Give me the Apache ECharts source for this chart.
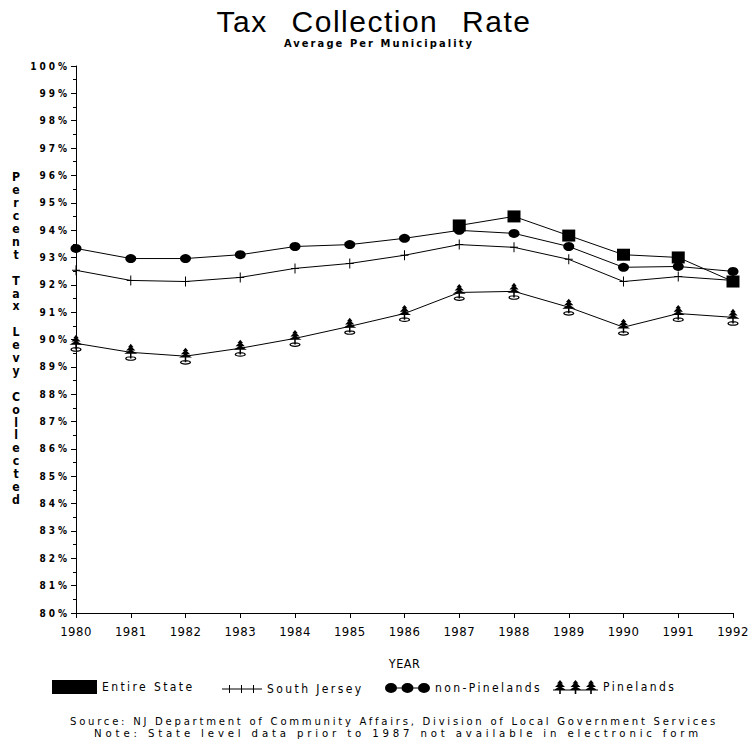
<!DOCTYPE html>
<html>
<head>
<meta charset="utf-8">
<title>Tax Collection Rate</title>
<script src="https://cdn.jsdelivr.net/npm/echarts@6/dist/echarts.min.js"></script>
<style>
  html, body { margin: 0; padding: 0; background: #fff; }
  #chart { width: 753px; height: 746px; }
  /* plotter style lettering is widely spaced; keyed on the font size of each text kind */
  #chart text[style*="30px"] { letter-spacing: 1.5px; word-spacing: 14px; }
  #chart text[style*="11px"] { letter-spacing: 2.1px; }
  #chart text[style*="10px"] { letter-spacing: 3px; }
  #chart text[style*="13px"] { letter-spacing: 0.5px; }
  #chart text[style*="12.5px"] { letter-spacing: 0.5px; }
  #chart text[style*="12px"] { letter-spacing: 2.4px; }
  #chart text[style*="11.2px"] { letter-spacing: 2.75px; }
  #chart text[style*="11.3px"] { letter-spacing: 3.85px; }
</style>
</head>
<body>
<div id="chart"></div>
<script>
const years = ['1980', '1981', '1982', '1983', '1984', '1985', '1986', '1987', '1988', '1989', '1990', '1991', '1992']
// state level data only from 1987 on
const entireState = ['-', '-', '-', '-', '-', '-', '-', 94.17, 94.5, 93.8, 93.1, 93.0, 92.12]
const southJersey = [92.53, 92.16, 92.12, 92.27, 92.6, 92.78, 93.08, 93.47, 93.37, 92.93, 92.12, 92.3, 92.16]
const nonPinelands = [93.33, 92.96, 92.96, 93.1, 93.4, 93.47, 93.7, 93.99, 93.88, 93.4, 92.64, 92.67, 92.49]
const pinelands = [89.86, 89.53, 89.39, 89.68, 90.04, 90.48, 90.95, 91.72, 91.76, 91.18, 90.45, 90.95, 90.81]

const plotFont = '"Liberation Sans Narrow", "DejaVu Sans Condensed", sans-serif'

// marker shapes
const plusSymbol = 'path://M3.5,0H4.5V10H3.5Z M0,4.5H8V5.5H0Z'
const treeSymbol = 'path://M7,0 L4,3.5 L5.5,3.5 L2,7 L5.5,7 L0,10.5 L6.2,10.5 L6.2,15.5 L7.8,15.5 L7.8,10.5 L14,10.5 L8.5,7 L12,7 L8.5,3.5 L10,3.5 Z' +
  ' M1,15.5 a6,2.5 0 1,0 12,0 a6,2.5 0 1,0 -12,0 Z M2.5,15.5 a4.5,1.2 0 1,1 9,0 a4.5,1.2 0 1,1 -9,0 Z'

// legend icons show three markers on a line
const plusIcon = 'path://M0,3.5H40V4.5H0Z M7,0H8V8H7Z M19,0H20V8H19Z M31,0H32V8H31Z'
const dotsIcon = 'path://M0,5a6,5 0 1,0 12,0a6,5 0 1,0 -12,0Z M16.5,5a6,5 0 1,0 12,0a6,5 0 1,0 -12,0Z M33,5a6,5 0 1,0 12,0a6,5 0 1,0 -12,0Z M6,4.5V5.5H39V4.5Z'
function tree(dx) {
  return 'M' + (7 + dx) + ',0 l-3,3.5 h1.5 l-3.5,3.5 h3.5 l-5.5,3.5 h6.2 v3.5 h1.6 v-3.5 h6.2 l-5.5,-3.5 h3.5 l-3.5,-3.5 h1.5 Z '
}
const treesIcon = 'path://' + tree(0) + tree(15.5) + tree(31) + 'M0,9.5V10.5H45V9.5Z'

const yName = 'Percent Tax Levy Collected'.split('').join('\n')

const chart = echarts.init(document.getElementById('chart'), null, { renderer: 'svg' })

function legendItem(name, icon, left, w, h, top) {
  return {
    data: [{ name: name, icon: icon }],
    left: left,
    top: top,
    itemWidth: w,
    itemHeight: h,
    padding: 0,
    selectedMode: false,
    itemStyle: { color: '#000', borderWidth: 0 },
    textStyle: { fontFamily: plotFont, fontSize: 12, color: '#000', padding: [0, 0, 0, 0] }
  }
}

chart.setOption({
  animation: false,
  backgroundColor: '#fff',
  graphic: [
    { type: 'text', x: 374, y: 21, style: { text: 'Tax Collection Rate', fontFamily: 'Liberation Sans', fontSize: 30, fill: '#000', align: 'center', verticalAlign: 'middle' } },
    { type: 'text', x: 379, y: 43, style: { text: 'Average Per Municipality', fontFamily: plotFont, fontSize: 11, fontWeight: 'bold', fill: '#000', align: 'center', verticalAlign: 'middle' } },
    { type: 'text', x: 16, y: 171, style: { text: yName, fontFamily: plotFont, fontSize: 12.2, fontWeight: 'bold', lineHeight: 12.9, fill: '#000', align: 'center', verticalAlign: 'top' } },
    { type: 'text', x: 394, y: 721, style: { text: 'Source: NJ Department of Community Affairs, Division of Local Government Services', fontFamily: plotFont, fontSize: 11.2, fill: '#000', align: 'center', verticalAlign: 'middle' } },
    { type: 'text', x: 398, y: 733, style: { text: 'Note: State level data prior to 1987 not available in electronic form', fontFamily: plotFont, fontSize: 11.3, fill: '#000', align: 'center', verticalAlign: 'middle' } }
  ],
  legend: [
    legendItem('Entire State', 'rect', 52, 45, 14, 680),
    legendItem('South Jersey', plusIcon, 222, 40, 8, 683),
    legendItem('non-Pinelands', dotsIcon, 385, 45, 10, 682),
    legendItem('Pinelands', treesIcon, 553, 45, 14, 680)
  ],
  grid: {
    left: 76,
    right: 20,
    top: 66,
    bottom: 133,
    outerBoundsMode: 'none'
  },
  xAxis: {
    type: 'category',
    data: years,
    boundaryGap: false,
    name: 'YEAR',
    nameLocation: 'middle',
    nameGap: 44,
    nameTextStyle: { fontFamily: plotFont, fontSize: 12.5, color: '#000' },
    axisLine: { lineStyle: { color: '#000', width: 1 } },
    axisTick: { alignWithLabel: true, length: 5, lineStyle: { color: '#000' } },
    axisLabel: { interval: 0, margin: 12, fontFamily: plotFont, fontSize: 13, color: '#000' },
    splitLine: { show: false }
  },
  yAxis: {
    type: 'value',
    min: 80,
    max: 100,
    interval: 1,
    axisLine: { show: true, lineStyle: { color: '#000', width: 1 } },
    axisTick: { show: true, length: 5, lineStyle: { color: '#000' } },
    minorTick: { show: true, splitNumber: 2, length: 3, lineStyle: { color: '#000' } },
    axisLabel: { formatter: '{value}%', margin: 6, fontFamily: plotFont, fontSize: 10, fontWeight: 'bold', color: '#000' },
    splitLine: { show: false }
  },
  series: [
    {
      name: 'Entire State',
      type: 'line',
      data: entireState,
      symbol: 'rect',
      symbolSize: [13, 12],
      color: '#000',
      lineStyle: { color: '#000', width: 1 },
      itemStyle: { color: '#000', borderWidth: 0 }
    },
    {
      name: 'South Jersey',
      type: 'line',
      data: southJersey,
      symbol: plusSymbol,
      symbolSize: [8, 10],
      color: '#000',
      lineStyle: { color: '#000', width: 1 },
      itemStyle: { color: '#000', borderWidth: 0 }
    },
    {
      name: 'non-Pinelands',
      type: 'line',
      data: nonPinelands,
      symbol: 'circle',
      symbolSize: [11, 9],
      color: '#000',
      lineStyle: { color: '#000', width: 1 },
      itemStyle: { color: '#000', borderWidth: 0 }
    },
    {
      name: 'Pinelands',
      type: 'line',
      data: pinelands,
      symbol: treeSymbol,
      symbolSize: [13, 17],
      color: '#000',
      lineStyle: { color: '#000', width: 1 },
      itemStyle: { color: '#000', borderWidth: 0 }
    }
  ]
})
</script>
</body>
</html>
